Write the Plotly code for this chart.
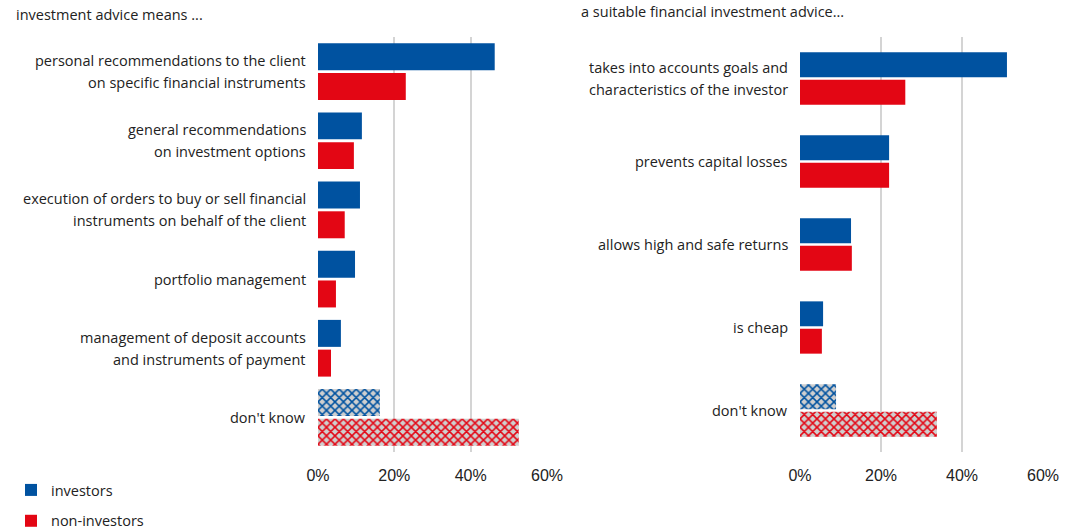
import plotly.graph_objects as go

# left panel: "investment advice means ..."
left_cats = ['personal recommendations to the client<br>on specific financial instruments',
             'general recommendations<br>on investment options',
             'execution of orders to buy or sell financial<br>instruments on behalf of the client',
             'portfolio management',
             'management of deposit accounts<br>and instruments of payment',
             "don't know"]
left_inv = [46.3, 11.5, 11.0, 9.7, 6.0, 16.2]
left_non = [23.0, 9.4, 7.0, 4.7, 3.4, 52.6]

# right panel: "a suitable financial investment advice..."
right_cats = ['takes into accounts goals and<br>characteristics of the investor',
              'prevents capital losses',
              'allows high and safe returns',
              'is cheap',
              "don't know"]
right_inv = [51.1, 22.0, 12.6, 5.7, 8.9]
right_non = [26.0, 22.0, 12.8, 5.4, 33.8]

blue = '#0052A0'
red = '#E30614'
font = 'Open Sans'
fsize = 14.5
txt = '#222'

W, H = 1077, 530
def px(x):
    return x / W
def py(y):
    return 1 - y / H

def pat(n, col):
    shapes = [''] * (n - 1) + ['x']
    return dict(shape=shapes, fgcolor=col, bgcolor='#cfcfcf', size=6, solidity=0.45, fillmode='replace')

fig = go.Figure()

# left
fig.add_trace(go.Bar(y=left_cats, x=left_inv, orientation='h', name='investors',
                     marker=dict(color=blue, pattern=pat(6, blue), line=dict(width=0)),
                     width=0.39, offset=-0.41, xaxis='x', yaxis='y', legendgroup='a'))
fig.add_trace(go.Bar(y=left_cats, x=left_non, orientation='h', name='non-investors',
                     marker=dict(color=red, pattern=pat(6, red), line=dict(width=0)),
                     width=0.39, offset=0.02, xaxis='x', yaxis='y', legendgroup='b'))
# right
fig.add_trace(go.Bar(y=right_cats, x=right_inv, orientation='h', showlegend=False,
                     marker=dict(color=blue, pattern=pat(5, blue), line=dict(width=0)),
                     width=0.30, offset=-0.315, xaxis='x2', yaxis='y2'))
fig.add_trace(go.Bar(y=right_cats, x=right_non, orientation='h', showlegend=False,
                     marker=dict(color=red, pattern=pat(5, red), line=dict(width=0)),
                     width=0.30, offset=0.015, xaxis='x2', yaxis='y2'))

ydom = [py(452), py(37)]
xax = dict(range=[0, 60], tickvals=[0, 20, 40, 60], ticktext=['0%', '20%', '40%', '60%'],
           showgrid=True, gridcolor='#d4d4d4', gridwidth=2, zeroline=False, showline=False,
           tickfont=dict(family='Liberation Sans', size=16, color=txt), ticklabelstandoff=12)
yax = dict(autorange='reversed', showgrid=False, showline=False, zeroline=False, showticklabels=False)

# category labels as annotations (to get the wider line spacing)
annots = []
for cats, yref, xref in [(left_cats, 'y', 'x'), (right_cats, 'y2', 'x2')]:
    for i, c in enumerate(cats):
        lines = c.split('<br>')
        n = len(lines)
        for k, ln in enumerate(lines):
            annots.append(dict(text=ln, x=0, y=i, xref=xref, yref=yref, xanchor='right', yanchor='middle',
                               xshift=-10, yshift=(n - 1) * 11 - k * 22, showarrow=False,
                               font=dict(family=font, size=fsize, color=txt)))

annots += [
    dict(text='investment advice means ...', x=px(14), y=py(15), xref='paper', yref='paper',
         xanchor='left', yanchor='middle', showarrow=False, font=dict(family=font, size=fsize, color=txt)),
    dict(text='a suitable financial investment advice...', x=px(579), y=py(12), xref='paper', yref='paper',
         xanchor='left', yanchor='middle', showarrow=False, font=dict(family=font, size=fsize, color=txt)),
]

fig.update_layout(
    width=W, height=H, margin=dict(l=0, r=0, t=0, b=0, autoexpand=False),
    plot_bgcolor='white', paper_bgcolor='white', barmode='overlay',
    font=dict(family=font, size=fsize, color=txt),
    xaxis=dict(xax, domain=[px(318), px(547)], anchor='y'),
    yaxis=dict(yax, domain=ydom, anchor='x'),
    xaxis2=dict(xax, domain=[px(800), px(1043)], anchor='y2'),
    yaxis2=dict(yax, domain=ydom, anchor='x2'),
    legend=dict(x=px(11), y=py(474), xanchor='left', yanchor='top',
                tracegroupgap=9, font=dict(family=font, size=fsize, color=txt), bgcolor='rgba(0,0,0,0)'),
    annotations=annots,
)

# drop the default 8px page margin so the figure fills the window exactly
fig.write_html('out.html', config={'displayModeBar': False},
               post_script="document.body.style.margin='0';")
